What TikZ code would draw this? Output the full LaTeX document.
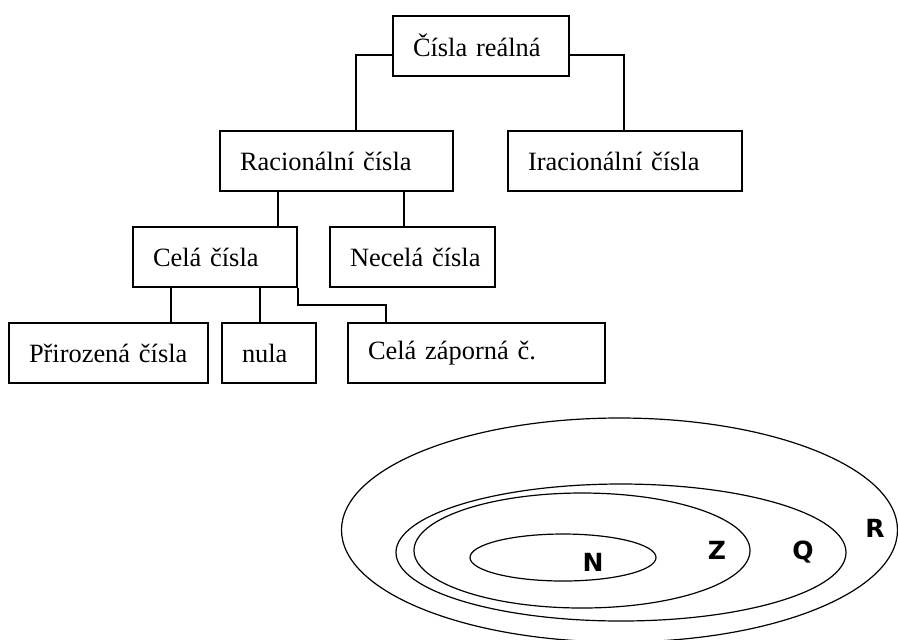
\documentclass[tikz,border=0pt]{standalone}
\usepackage{fontspec}
\setmainfont{Liberation Serif}
\newfontfamily\setletters{DejaVu Sans}
\begin{document}
\begin{tikzpicture}
  [x=0.5pt,y=-0.5pt,
   numbox/.style={draw,line width=1pt,minimum height=30pt,inner xsep=10pt,
     align=left,text width=#1,font=\fontsize{13.2}{15}\selectfont},
   link/.style={line width=0.7pt},
   setline/.style={line width=0.6pt},
   setname/.style={font=\setletters\bfseries\fontsize{12.5}{14}\selectfont}]
  \useasboundingbox (0,0) rectangle (898,639);
  \clip (0,0) rectangle (898,639);
  \node[numbox=68pt] (real) at (481,45.5) {Čísla reálná};
  \node[numbox=96.5pt] (racio) at (336.5,161) {Racionální čísla};
  \node[numbox=97pt] (iracio) at (625,161) {Iracionální čísla};
  \node[numbox=62pt] (cela) at (215,257) {Celá čísla};
  \node[numbox=62.5pt] (necela) at (412.5,257) {\mbox{Necelá čísla}};
  \node[numbox=79.5pt] (priroz) at (108.5,353) {Přirozená čísla};
  \node[numbox=27pt] (nula) at (269,353) {nula};
  \node[numbox=108.5pt] (zaporna) at (476.5,353) {Celá záporná č.};
  \draw[link] ([yshift=-4.75pt]real.west) -| ([xshift=9.75pt]racio.north);
  \draw[link] ([yshift=-4.75pt]real.east) -| ([xshift=-0.5pt]iracio.north);
  \foreach \child/\dx/\parent in {cela/31.5pt/racio,necela/-4.25pt/racio,
      priroz/31.25pt/cela,nula/-4.5pt/cela}
    \draw[link] ([xshift=\dx]\child.north) -- ([xshift=\dx]\child.north |- \parent.south);
  \draw[link] (cela.south east) -- ++(0pt,-8.5pt) -| ([xshift=-45.25pt]zaporna.north);

  \draw[setline] (619.5,530) ellipse [x radius=278,y radius=112];
  \draw[setline] (621,552.5) ellipse [x radius=225,y radius=68.5];
  \draw[setline] (582,550.5) ellipse [x radius=168,y radius=57.5];
  \draw[setline] (563,557.5) ellipse [x radius=93,y radius=23.5];
  \node[setname] (n) at (593,562) {N};
  \node[setname] (z) at (717,550) {Z};
  \node[setname] (q) at (803,552) {Q};
  \node[setname] (r) at (875,528) {R};
\end{tikzpicture}
\end{document}
